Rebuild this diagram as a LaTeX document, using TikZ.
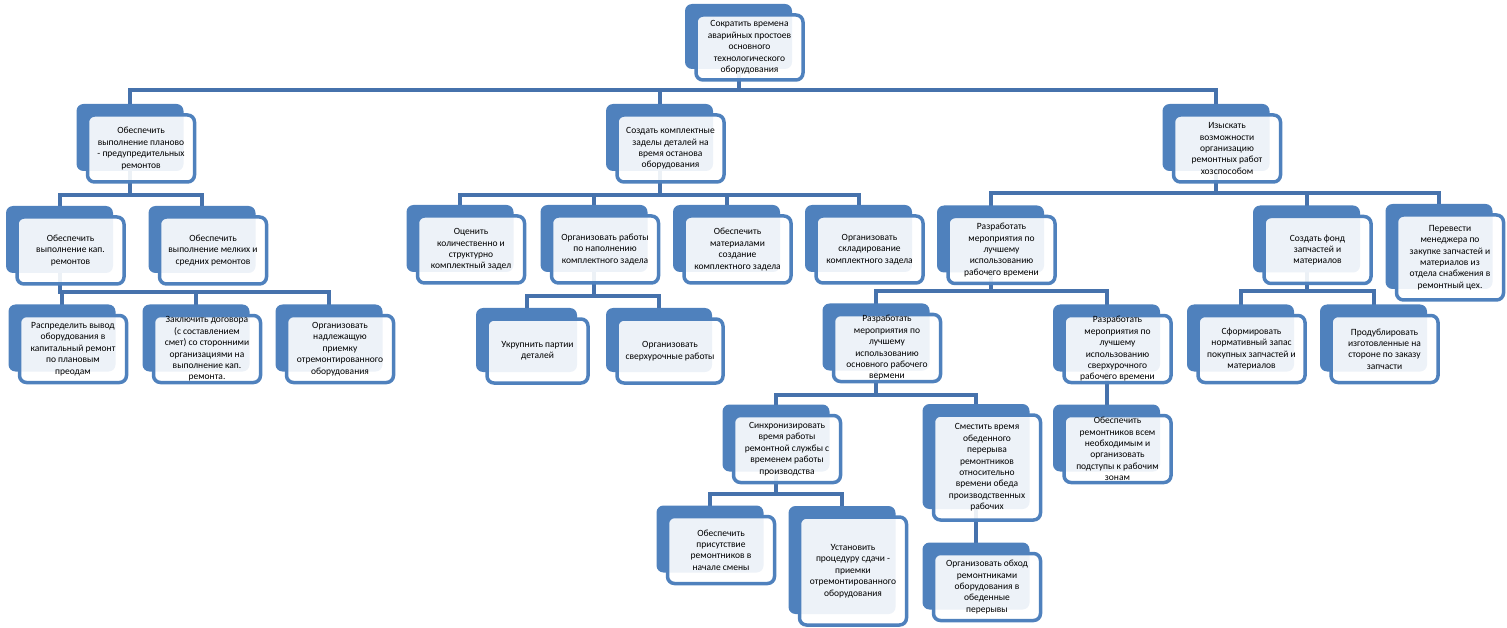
\documentclass[tikz,border=0pt]{standalone}
\usepackage{fontspec}
\setmainfont{Carlito}
\usetikzlibrary{shadows, backgrounds}
\definecolor{boxblue}{HTML}{4F81BD}
\definecolor{lineblue}{HTML}{4672AC}

\begin{document}
\begin{tikzpicture}[x=1pt, y=-1pt,
    task/.style={draw=boxblue, line width=3.5pt, rounded corners=7pt, fill=white, fill opacity=0.9, text opacity=1,
                 align=center, inner sep=1pt, minimum width=107pt, minimum height=67pt,
                 font=\fontsize{9.5}{11.4}\selectfont,
                 general shadow={shadow xshift=-11pt, shadow yshift=11pt, fill=boxblue, draw=none, fill opacity=1}},
    link/.style={draw=lineblue, line width=4pt}]

    \useasboundingbox (0,0) rectangle (1507,628);

    % Goal and first level
    \node[task, minimum height=65pt] (root) at (749.5,47.5) {Сократить времена\\аварийных простоев\\основного\\технологического\\оборудования};
    \node[task] (g1) at (141,148.5) {Обеспечить\\выполнение планово\\- предупредительных\\ремонтов};
    \node[task] (g2) at (670.5,148.5) {Создать комплектные\\заделы деталей на\\время останова\\оборудования};
    \node[task] (g3) at (1227,148.5) {Изыскать\\возможности\\организацию\\ремонтных работ\\хозспособом};

    % Left branch
    \node[task] (g11) at (70.5,250.5) {Обеспечить\\выполнение кап.\\ремонтов};
    \node[task] (g12) at (213,250.5) {Обеспечить\\выполнение мелких и\\средних ремонтов};
    \node[task] (g111) at (73,349) {Распределить вывод\\оборудования в\\капитальный ремонт\\по плановым\\преодам};
    \node[task] (g112) at (207,349) {Заключить договора\\(с составлением\\смет) со сторонними\\организациями на\\выполнение кап.\\ремонта.};
    \node[task] (g113) at (340,349) {Организовать\\надлежащую\\приемку\\отремонтированного\\оборудования};

    % Middle branch
    \node[task] (g21) at (471,249.5) {Оценить\\количественно и\\структурно\\комплектный задел};
    \node[task] (g22) at (605,249.5) {Организовать работы\\по наполнению\\комплектного задела};
    \node[task] (g23) at (737.5,249.5) {Обеспечить\\материалами\\создание\\комплектного задела};
    \node[task] (g24) at (869.5,249.5) {Организовать\\складирование\\комплектного задела};
    \node[task, minimum width=101pt, minimum height=64pt] (g221) at (537.5,351) {Укрупнить партии\\деталей};
    \node[task, minimum width=106pt, minimum height=64pt] (g222) at (670,351) {Организовать\\сверхурочные работы};

    % Right branch
    \node[task] (g31) at (1001.5,250) {Разработать\\мероприятия по\\лучшему\\использованию\\рабочего времени};
    \node[task] (g32) at (1317.5,250) {Создать фонд\\запчастей и\\материалов};
    \node[task, minimum height=85pt] (g33) at (1450,257.5) {Перевести\\менеджера по\\закупке запчастей и\\материалов из\\отдела снабжения в\\ремонтный цех.};
    \node[task] (g311) at (887,348) {Разработать\\мероприятия по\\лучшему\\использованию\\основного рабочего\\вермени};
    \node[task] (g312) at (1117.5,349) {Разработать\\мероприятия по\\лучшему\\использованию\\сверхурочного\\рабочего времени};
    \node[task] (g321) at (1251.5,349) {Сформировать\\нормативный запас\\покупных запчастей и\\материалов};
    \node[task] (g322) at (1384.5,349) {Продублировать\\изготовленные на\\стороне по заказу\\запчасти};
    \node[task] (g3111) at (787,449) {Синхронизировать\\время работы\\ремонтной службы с\\временем работы\\производства};
    \node[task, minimum height=105pt] (g3112) at (987,467.5) {Сместить время\\обеденного\\перерыва\\ремонтников\\относительно\\времени обеда\\производственных\\рабочих};
    \node[task] (g3121) at (1117.5,449) {Обеспечить\\ремонтников всем\\необходимым и\\организовать\\подступы к рабочим\\зонам};
    \node[task] (g31111) at (721,550) {Обеспечить\\присутствие\\ремонтников в\\начале смены};
    \node[task, minimum height=108pt] (g31112) at (853,571) {Установить\\процедуру сдачи -\\приемки\\отремонтированного\\оборудования};
    \node[task] (g31121) at (987,587) {Организовать обход\\ремонтниками\\оборудования в\\обеденные\\перерывы};

    % Edges, behind the boxes
    \begin{scope}[on background layer]
    \draw[link] ([xshift=-11pt]root.center) -- ([xshift=-11pt, yshift=-8pt]root.south) -| ([xshift=-11pt]g1.north);
    \draw[link] ([xshift=-11pt]root.center) -- ([xshift=-11pt, yshift=-8pt]root.south) -| ([xshift=-11pt]g2.north);
    \draw[link] ([xshift=-11pt]root.center) -- ([xshift=-11pt, yshift=-8pt]root.south) -| ([xshift=-11pt]g3.north);

    \draw[link] ([xshift=-11pt]g1.center) -- ([xshift=-11pt, yshift=-11pt]g1.south) -| ([xshift=-11pt]g11.north);
    \draw[link] ([xshift=-11pt]g1.center) -- ([xshift=-11pt, yshift=-11pt]g1.south) -| ([xshift=-11pt]g12.north);
    \draw[link] ([xshift=-11pt]g11.center) -- ([xshift=-11pt, yshift=-6pt]g11.south) -| ([xshift=-11pt]g111.north);
    \draw[link] ([xshift=-11pt]g11.center) -- ([xshift=-11pt, yshift=-6pt]g11.south) -| ([xshift=-11pt]g112.north);
    \draw[link] ([xshift=-11pt]g11.center) -- ([xshift=-11pt, yshift=-6pt]g11.south) -| ([xshift=-11pt]g113.north);

    \draw[link] ([xshift=-11pt]g2.center) -- ([xshift=-11pt, yshift=-11pt]g2.south) -| ([xshift=-11pt]g21.north);
    \draw[link] ([xshift=-11pt]g2.center) -- ([xshift=-11pt, yshift=-11pt]g2.south) -| ([xshift=-11pt]g22.north);
    \draw[link] ([xshift=-11pt]g2.center) -- ([xshift=-11pt, yshift=-11pt]g2.south) -| ([xshift=-11pt]g23.north);
    \draw[link] ([xshift=-11pt]g2.center) -- ([xshift=-11pt, yshift=-11pt]g2.south) -| ([xshift=-11pt]g24.north);
    \draw[link] ([xshift=-11pt]g22.center) -- ([xshift=-11pt, yshift=-11pt]g22.south) -| ([xshift=-11pt]g221.north);
    \draw[link] ([xshift=-11pt]g22.center) -- ([xshift=-11pt, yshift=-11pt]g22.south) -| ([xshift=-11pt]g222.north);

    \draw[link] ([xshift=-11pt]g3.center) -- ([xshift=-11pt, yshift=-9pt]g3.south) -| ([xshift=-11pt]g31.north);
    \draw[link] ([xshift=-11pt]g3.center) -- ([xshift=-11pt, yshift=-9pt]g3.south) -| ([xshift=-11pt]g32.north);
    \draw[link] ([xshift=-11pt]g3.center) -- ([xshift=-11pt, yshift=-9pt]g3.south) -| ([xshift=-11pt]g33.north);
    \draw[link] ([xshift=-11pt]g31.center) -- ([xshift=-11pt, yshift=-6pt]g31.south) -| ([xshift=-11pt]g311.north);
    \draw[link] ([xshift=-11pt]g31.center) -- ([xshift=-11pt, yshift=-6pt]g31.south) -| ([xshift=-11pt]g312.north);
    \draw[link] ([xshift=-11pt]g32.center) -- ([xshift=-11pt, yshift=-6pt]g32.south) -| ([xshift=-11pt]g321.north);
    \draw[link] ([xshift=-11pt]g32.center) -- ([xshift=-11pt, yshift=-6pt]g32.south) -| ([xshift=-11pt]g322.north);
    \draw[link] ([xshift=-11pt]g311.center) -- ([xshift=-11pt, yshift=-12pt]g311.south) -| ([xshift=-11pt]g3111.north);
    \draw[link] ([xshift=-11pt]g311.center) -- ([xshift=-11pt, yshift=-12pt]g311.south) -| ([xshift=-11pt]g3112.north);
    \draw[link] ([xshift=-11pt]g312.center) -- ([xshift=-11pt]g3121.north);
    \draw[link] ([xshift=-11pt]g3111.center) -- ([xshift=-11pt, yshift=-10pt]g3111.south) -| ([xshift=-11pt]g31111.north);
    \draw[link] ([xshift=-11pt]g3111.center) -- ([xshift=-11pt, yshift=-10pt]g3111.south) -| ([xshift=-11pt]g31112.north);
    \draw[link] ([xshift=-11pt]g3112.center) -- ([xshift=-11pt]g31121.north);
    \end{scope}

\end{tikzpicture}
\end{document}
